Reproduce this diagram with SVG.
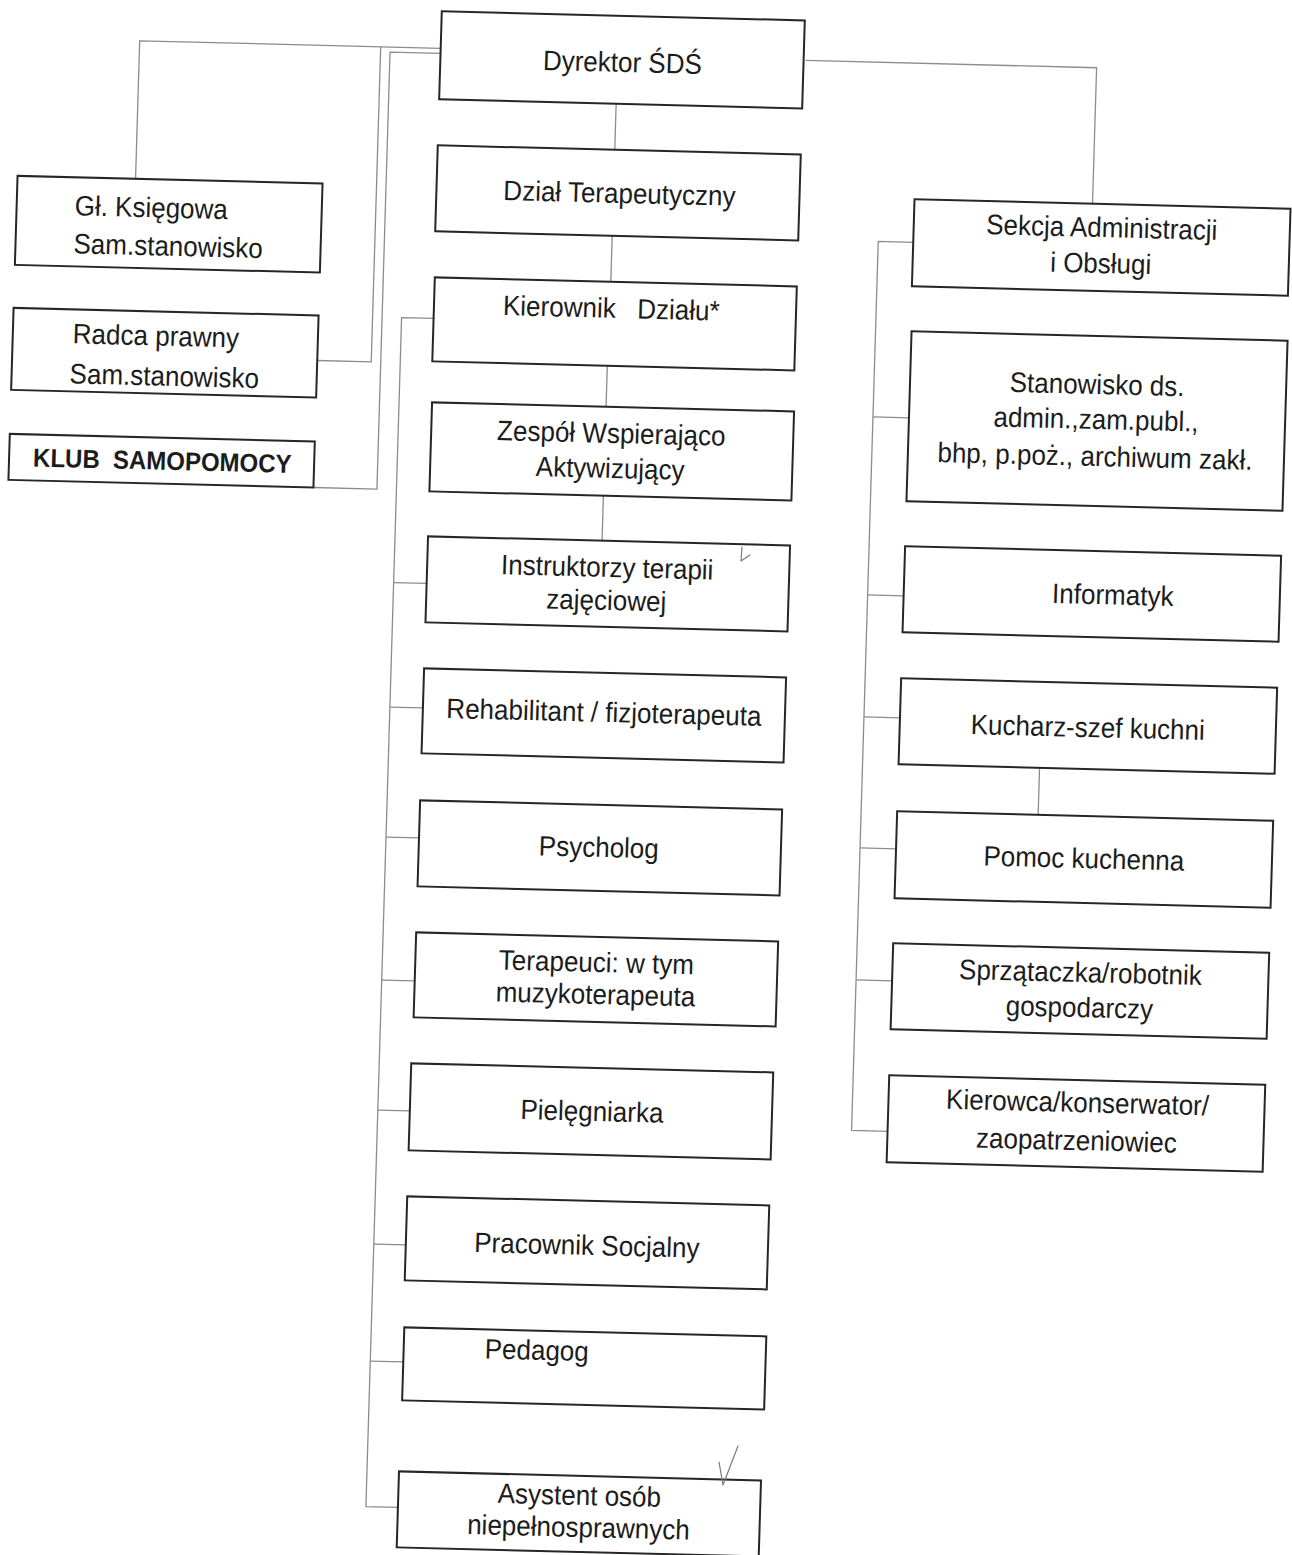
<svg xmlns="http://www.w3.org/2000/svg" width="1292" height="1555" viewBox="0 0 1292 1555">
<style>
.box{fill:#fff;stroke:#262626;stroke-width:2}
.t{font-family:"Liberation Sans",Arial,sans-serif;font-size:26px;fill:#1c1c1c;text-anchor:middle}
.s{text-anchor:start}
.b{font-weight:bold;font-size:24px}
.c{stroke:#8c8c8c;stroke-width:1.3;fill:none}
.hw{stroke:#7a7a7a;stroke-width:1.2;fill:none;stroke-linecap:round;stroke-linejoin:round}
</style>
<rect width="1292" height="1555" fill="#fff"/>
<g transform="matrix(1,0.025,-0.03,1,23.31,-16.15)">
<g id="connectors">
<path class="c" d="M419,54 H118 V192"/>
<path class="c" d="M359,54 V369 H305"/>
<path class="c" d="M419,59 H368.5 V496 H305"/>
<path class="c" d="M784,57 H1075 V193"/>
<path class="c" d="M596,105 V151"/>
<path class="c" d="M596,237 V283"/>
<path class="c" d="M595,367 V408"/>
<path class="c" d="M595,497 V542"/>
<path class="c" d="M420,324 H388 V1513 H420"/>
<path class="c" d="M388,589 H421 M388,713.5 H421 M388,843.5 H421 M388,986.5 H421 M388,1116.5 H420 M388,1250.5 H420 M388,1367.5 H421"/>
<path class="c" d="M897,236 H862 V1125 H898"/>
<path class="c" d="M862,411.5 H898 M862,589.5 H898 M862,711.5 H898 M862,842.5 H898 M862,974.5 H898"/>
<path class="c" d="M1039,758 V805"/>
</g>
<g id="dyrektor"><rect class="box" x="419" y="17" width="363" height="88"/><text class="t" transform="translate(601 73) scale(1 1.08)">Dyrektor ŚDŚ</text></g>
<g id="dzial"><rect class="box" x="419" y="151" width="363" height="86"/><text class="t" transform="translate(602 204) scale(1 1.08)">Dział Terapeutyczny</text></g>
<g id="ksiegowa"><rect class="box" x="0" y="192" width="305" height="89"/><text class="t s" transform="translate(58 230) scale(1 1.08)">Gł. Księgowa</text><text class="t s" transform="translate(58 268) scale(1 1.08)">Sam.stanowisko</text></g>
<g id="radca"><rect class="box" x="0" y="324" width="305" height="82"/><text class="t s" transform="translate(60 358) scale(1 1.08)">Radca prawny</text><text class="t s" transform="translate(58 398) scale(1 1.08)">Sam.stanowisko</text></g>
<g id="klub"><rect class="box" x="0" y="450" width="305" height="46"/><text class="t s b" transform="translate(24 482) scale(1 1.08)" xml:space="preserve">KLUB  SAMOPOMOCY</text></g>
<g id="kierownik"><rect class="box" x="420" y="283" width="362" height="84"/><text class="t s" transform="translate(489 319) scale(1 1.08)" xml:space="preserve">Kierownik   Działu*</text></g>
<g id="zespol"><rect class="box" x="421" y="408" width="362" height="89"/><text class="t" transform="translate(601 444) scale(1 1.08)">Zespół Wspierająco</text><text class="t" transform="translate(601 479) scale(1 1.08)">Aktywizujący</text></g>
<g id="instruktorzy"><rect class="box" x="421" y="542" width="362" height="86"/><text class="t" transform="translate(601 578) scale(1 1.08)">Instruktorzy terapii</text><text class="t" transform="translate(601 611) scale(1 1.08)">zajęciowej</text></g>
<g id="rehabilitant"><rect class="box" x="421" y="674" width="362" height="85"/><text class="t" transform="translate(602 723) scale(1 1.08)">Rehabilitant / fizjoterapeuta</text></g>
<g id="psycholog"><rect class="box" x="421" y="806" width="362" height="86"/><text class="t" transform="translate(601 858) scale(1 1.08)">Psycholog</text></g>
<g id="terapeuci"><rect class="box" x="421" y="938" width="362" height="85"/><text class="t" transform="translate(602 973) scale(1 1.08)">Terapeuci: w tym</text><text class="t" transform="translate(602 1005) scale(1 1.08)">muzykoterapeuta</text></g>
<g id="pielegniarka"><rect class="box" x="420" y="1069" width="362" height="87"/><text class="t" transform="translate(602 1122) scale(1 1.08)">Pielęgniarka</text></g>
<g id="pracownik"><rect class="box" x="420" y="1202" width="362" height="84"/><text class="t" transform="translate(601 1256) scale(1 1.08)">Pracownik Socjalny</text></g>
<g id="pedagog"><rect class="box" x="421" y="1333" width="362" height="73"/><text class="t s" transform="translate(502 1362) scale(1 1.08)">Pedagog</text></g>
<g id="asystent"><rect class="box" x="420" y="1477" width="362" height="76"/><text class="t" transform="translate(601 1506) scale(1 1.08)">Asystent osób</text><text class="t" transform="translate(601 1538) scale(1 1.08)">niepełnosprawnych</text></g>
<g id="sekcja"><rect class="box" x="897" y="193" width="376" height="87"/><text class="t" transform="translate(1085 226) scale(1 1.08)">Sekcja Administracji</text><text class="t" transform="translate(1085 262) scale(1 1.08)">i Obsługi</text></g>
<g id="stanowisko"><rect class="box" x="898" y="325" width="376" height="170"/><text class="t" transform="translate(1085 383) scale(1 1.08)">Stanowisko ds.</text><text class="t" transform="translate(1085 418) scale(1 1.08)">admin.,zam.publ.,</text><text class="t" transform="translate(1085 455) scale(1 1.08)">bhp, p.poż., archiwum zakł.</text></g>
<g id="informatyk"><rect class="box" x="898" y="540" width="376" height="86"/><text class="t" transform="translate(1107 593) scale(1 1.08)">Informatyk</text></g>
<g id="kucharz"><rect class="box" x="898" y="672" width="376" height="86"/><text class="t" transform="translate(1086 726) scale(1 1.08)">Kucharz-szef kuchni</text></g>
<g id="pomoc"><rect class="box" x="898" y="805" width="376" height="87"/><text class="t" transform="translate(1086 857) scale(1 1.08)">Pomoc kuchenna</text></g>
<g id="sprzataczka"><rect class="box" x="898" y="937" width="376" height="86"/><text class="t" transform="translate(1086 971) scale(1 1.08)">Sprzątaczka/robotnik</text><text class="t" transform="translate(1086 1006) scale(1 1.08)">gospodarczy</text></g>
<g id="kierowca"><rect class="box" x="898" y="1069" width="376" height="87"/><text class="t" transform="translate(1087 1101) scale(1 1.08)">Kierowca/konserwator/</text><text class="t" transform="translate(1087 1139) scale(1 1.08)">zaopatrzeniowiec</text></g>
</g>
<path class="hw" d="M742,547 L741,561 L750,555"/>
<path class="hw" d="M719,1462 L723,1485 L738,1446"/>
</svg>
